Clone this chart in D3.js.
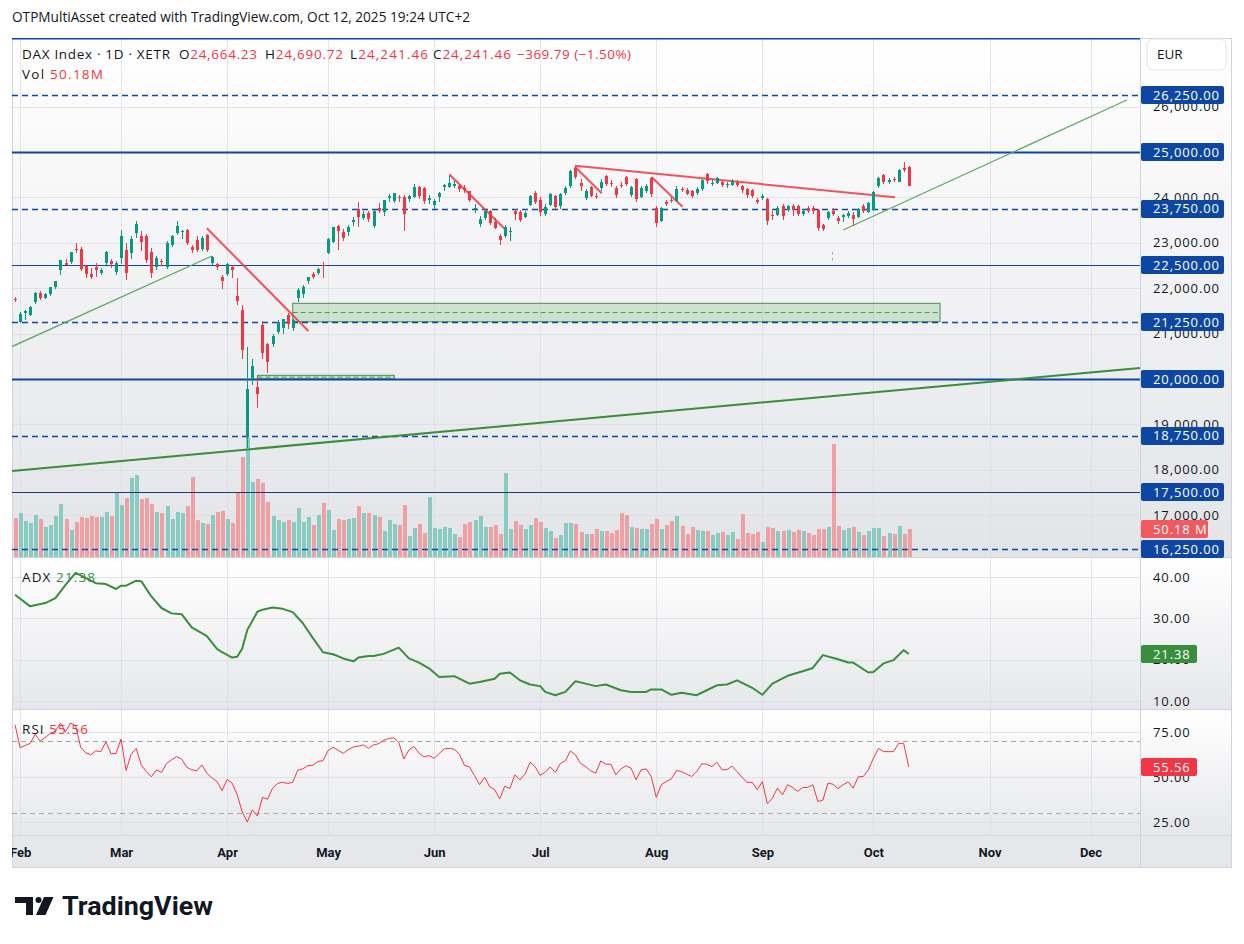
<!DOCTYPE html>
<html>
<head>
<meta charset="utf-8">
<title>DAX Index 1D XETR</title>
<script src="https://cdn.jsdelivr.net/npm/d3@7"></script>
<style>
  body { margin: 0; background: #ffffff; }
  svg { display: block; font-family: "Open Sans", "Noto Sans", Roboto, sans-serif; }
</style>
</head>
<body>
<svg id="chart" width="1244" height="944"></svg>
<script>
// ---------- data ----------
const holidays = ["2025-04-18", "2025-04-21", "2025-05-01"];
const monthNames = ["Jan", "Feb", "Mar", "Apr", "May", "Jun", "Jul", "Aug", "Sep", "Oct", "Nov", "Dec"];

// daily bars, 31 Jan 2025 .. 10 Oct 2025
const opens = [
  21770, 21260, 21450, 21400, 21690, 21900, 21790, 21880, 22030, 22390,
  22560, 22570, 22870, 22860, 22490, 22320, 22460, 22330, 22550, 22590,
  22360, 22660, 22840, 22770, 23210, 23160, 23150, 22800, 22470, 22600,
  22470, 22950, 23220, 23230, 23282, 22915, 23060, 22860, 23170, 22550,
  22530, 22240, 22313, 22460, 21830, 21520, 18730, 19993, 19817, 21189,
  20764, 20771, 21042, 21123, 21410, 21116, 21777, 21872, 22159, 22313,
  22341, 22511, 22782, 23024, 23370, 23238, 23231, 23460, 23738, 23540,
  23656, 23370, 23760, 23671, 23980, 23927, 24000, 24000, 23958, 24015,
  24222, 24200, 23950, 23832, 24000, 24236, 24236, 24260, 24260, 24200,
  24130, 23760, 23414, 23540, 23700, 23450, 23150, 23150, 23230, 23700,
  23685, 23575, 23832, 24105, 23943, 23635, 23832, 24030, 23800, 24090,
  24240, 24640, 24320, 23990, 24220, 24020, 24200, 24471, 24310, 24200,
  24273, 24440, 24053, 24397, 24015, 24140, 24420, 23760, 23487, 23905,
  23950, 23927, 24180, 24160, 24130, 24090, 24178, 24515, 24300, 24323,
  24330, 24270, 24280, 24340, 24250, 24178, 24163, 23943, 23980, 23958,
  23610, 23612, 23810, 23722, 23810, 23800, 23640, 23760, 23770, 23722,
  23392, 23540, 23700, 23540, 23560, 23590, 23610, 23575, 23810, 23685,
  23722, 24251, 24493, 24340, 24400, 24346, 24650, 24664.23
];
const highs = [
  21800, 21470, 21520, 21600, 21920, 21930, 21900, 22030, 22160, 22620,
  22650, 22800, 22990, 22900, 22520, 22450, 22560, 22440, 22830, 22650,
  22600, 23280, 22990, 23150, 23476, 23250, 23200, 22880, 22720, 22650,
  23030, 23180, 23476, 23290, 23300, 22960, 23150, 23140, 23200, 22700,
  22560, 22300, 22560, 22520, 22230, 21630, 20700, 20440, 19993, 21277,
  20800, 21000, 21300, 21320, 21450, 21330, 22000, 22060, 22250, 22350,
  22440, 22584, 23100, 23350, 23400, 23300, 23400, 23560, 23892, 23700,
  23700, 23720, 23880, 23950, 24080, 24100, 24050, 24050, 24050, 24295,
  24250, 24230, 24050, 23960, 24120, 24300, 24479, 24360, 24300, 24270,
  24150, 23860, 23600, 23750, 23720, 23550, 23200, 23400, 23350, 23750,
  23720, 23700, 24050, 24150, 24000, 23850, 24100, 24060, 24100, 24250,
  24610, 24690, 24400, 24180, 24260, 24100, 24400, 24500, 24380, 24250,
  24330, 24480, 24240, 24420, 24240, 24300, 24450, 23800, 23780, 23950,
  24000, 24260, 24230, 24200, 24160, 24220, 24400, 24540, 24400, 24440,
  24380, 24340, 24400, 24380, 24280, 24200, 24190, 23990, 24080, 23980,
  23700, 23800, 23850, 23830, 23850, 23830, 23750, 23800, 23810, 23740,
  23420, 23700, 23760, 23600, 23640, 23700, 23680, 23760, 23850, 23900,
  24130, 24440, 24520, 24420, 24450, 24620, 24770, 24690.72
];
const lows = [
  21690, 21230, 21300, 21380, 21650, 21740, 21760, 21830, 21980, 22300,
  22480, 22540, 22780, 22380, 22230, 22200, 22250, 22280, 22520, 22450,
  22280, 22530, 22190, 22650, 23100, 22820, 22560, 22230, 22400, 22480,
  22420, 22900, 23180, 23080, 22950, 22780, 22800, 22830, 22790, 22480,
  22400, 21976, 22270, 22230, 21620, 20434, 18489, 19868, 19368, 20450,
  20125, 20700, 21000, 21000, 21100, 21050, 21700, 21780, 22100, 22200,
  22290, 22232, 22750, 23000, 22840, 23050, 23150, 23380, 23354, 23500,
  23450, 23330, 23650, 23600, 23900, 23880, 23900, 23266, 23900, 23980,
  23960, 23850, 23850, 23740, 23900, 24150, 24200, 24200, 24120, 24100,
  23890, 23650, 23350, 23500, 23400, 23300, 22950, 23100, 23050, 23500,
  23450, 23550, 23800, 23850, 23600, 23600, 23800, 23750, 23750, 24050,
  24200, 24400, 24150, 23950, 24000, 23960, 24150, 24250, 24220, 23990,
  24200, 24250, 24000, 23900, 23990, 24100, 24000, 23350, 23450, 23800,
  23870, 23900, 24120, 24060, 23980, 24060, 24150, 24300, 24250, 24300,
  24220, 24200, 24250, 24230, 24100, 23980, 23980, 23850, 23950, 23400,
  23500, 23580, 23500, 23680, 23600, 23580, 23600, 23650, 23640, 23250,
  23250, 23500, 23580, 23420, 23450, 23550, 23380, 23540, 23650, 23650,
  23700, 24200, 24300, 24300, 24330, 24330, 24560, 24241.46
];
const closes = [
  21732, 21428, 21505, 21586, 21902, 21787, 21880, 22020, 22148, 22612,
  22513, 22798, 22844, 22433, 22314, 22250, 22390, 22410, 22794, 22530,
  22551, 23147, 22327, 23081, 23419, 23009, 22620, 22328, 22676, 22568,
  22987, 23154, 23380, 23260, 22999, 22850, 22852, 23109, 22839, 22679,
  22461, 22163, 22539, 22390, 21717, 20642, 19789, 20280, 19670, 20562,
  20374, 20954, 21254, 21311, 21206, 21294, 21962, 22020, 22242, 22240,
  22426, 22497, 23087, 23345, 23249, 23116, 23352, 23499, 23566, 23639,
  23527, 23695, 23690, 23935, 24036, 24090, 23980, 23630, 24028, 24227,
  24039, 23920, 23997, 23930, 24091, 24276, 24323, 24304, 24174, 24162,
  23949, 23771, 23516, 23699, 23434, 23317, 23057, 23350, 23270, 23641,
  23498, 23649, 24033, 23909, 23673, 23790, 24069, 23787, 24073, 24206,
  24590, 24456, 24240, 24150, 24040, 24000, 24347, 24290, 24295, 24042,
  24240, 24290, 24218, 23970, 24217, 24262, 24065, 23425, 23757, 23846,
  23924, 24193, 24163, 24082, 24025, 24186, 24377, 24359, 24314, 24423,
  24277, 24293, 24363, 24273, 24152, 24046, 24039, 23902, 24037, 23487,
  23595, 23770, 23597, 23807, 23718, 23632, 23703, 23698, 23700, 23329,
  23300, 23675, 23639, 23470, 23611, 23666, 23534, 23739, 23690, 23880,
  24114, 24423, 24340, 24378, 24385, 24597, 24611.25, 24241.46
];
// volume, millions
const volumes = [
  69.4, 78.6, 63.8, 60.2, 74.9, 67.5, 54.6, 56.5, 73.0, 95.1,
  67.5, 49.1, 62.0, 71.2, 69.4, 73.0, 71.2, 71.2, 80.4, 73.0,
  117.2, 93.3, 106.2, 141.2, 146.7, 104.3, 106.2, 95.1, 80.4, 78.6,
  91.5, 67.5, 80.4, 78.6, 91.5, 143.0, 65.7, 60.2, 58.3, 74.9,
  80.4, 82.3, 67.5, 60.2, 116.6, 180.0, 215.0, 133.8, 139.3, 132.0,
  98.8, 73.0, 65.7, 62.0, 65.7, 62.0, 87.8, 62.0, 71.2, 56.5,
  74.9, 97.0, 84.1, 49.1, 67.5, 65.7, 67.5, 69.4, 91.5, 78.6,
  78.6, 74.9, 71.2, 47.3, 65.7, 58.3, 56.5, 93.3, 38.1, 52.8,
  58.3, 43.6, 108.0, 52.8, 50.9, 54.6, 52.8, 41.7, 36.2, 58.3,
  62.0, 65.7, 73.0, 54.6, 54.6, 56.5, 41.7, 150.4, 50.9, 63.8,
  56.5, 50.9, 56.5, 69.4, 62.0, 52.8, 47.3, 34.4, 39.9, 60.2,
  60.2, 58.3, 45.4, 41.7, 41.7, 50.9, 46.0, 46.0, 42.4, 47.8,
  78.2, 74.6, 53.1, 51.3, 49.6, 49.6, 58.5, 67.5, 49.6, 56.7,
  63.9, 72.8, 54.9, 40.6, 53.1, 47.8, 46.0, 46.0, 38.8, 42.4,
  44.2, 38.8, 44.2, 31.6, 76.4, 42.4, 40.6, 44.2, 26.3, 53.1,
  51.3, 46.0, 46.0, 47.8, 44.2, 47.8, 46.0, 42.4, 38.8, 49.6,
  49.6, 53.1, 201.8, 54.9, 47.8, 51.3, 53.1, 44.2, 38.8, 46.0,
  51.3, 51.3, 37.0, 42.4, 40.6, 54.9, 40.6, 50.18
];
// RSI(14), one value per bar
const rsi = [
  79, 66.3, 67.5, 68.7, 73.7, 70, 72, 74.2, 75.5, 80,
  75.2, 80, 78.5, 66.5, 63.5, 62.3, 64.5, 64.1, 69.6, 63,
  63, 71.1, 53.6, 62.6, 65.9, 56.7, 53, 50.1, 54, 52.5,
  57.5, 59.5, 61.3, 60, 55.4, 54, 53.4, 56.7, 52.1, 49.5,
  47.5, 42.5, 48.6, 46.6, 40.1, 30.6, 25, 31.7, 28.3, 38.7,
  37.6, 43.8, 46.4, 47.1, 46.4, 47.1, 53.8, 54.5, 56.4, 56.5,
  58.6, 59.1, 64.7, 66.5, 64.8, 63.2, 65.2, 66.7, 67.2, 67.8,
  65.9, 67.8, 68.5, 70.4, 71.3, 71.8, 69.3, 60, 65, 67,
  63.2, 61.2, 61.9, 60.4, 63, 65.6, 65.9, 65.4, 62.6, 56.5,
  55.6, 50.8, 45.7, 49.9, 44.7, 42.9, 37.9, 44.9, 43.6, 51.2,
  48.4, 51.6, 58.2, 55.8, 50.8, 52.7, 55.6, 52.5, 57.5, 59.1,
  64.5, 62.3, 57.6, 55.8, 53.4, 52.1, 58.9, 57.1, 57.1, 51.2,
  54.5, 56.2, 54.9, 48.4, 54, 54.5, 50.3, 38.7, 45.7, 47.5,
  49, 53.6, 53, 51.6, 50.3, 53, 57.3, 57.1, 55.8, 58.2,
  54, 54.1, 56, 53, 49.7, 47, 47, 42.9, 47.5, 35.2,
  38.3, 43.8, 40.1, 45.7, 44.2, 42, 44.2, 44.2, 45.7, 36.4,
  37.2, 46.6, 46, 43.5, 45.7, 47.3, 43.8, 50.1, 50.3, 54,
  60.4, 65.9, 64.1, 64.1, 64.1, 68.7, 68.7, 55.56
];
// ADX(14): readings at bar index
const adxIdx = [0, 3, 6, 8, 10, 12, 14, 16, 18, 20, 21, 22, 24, 25, 27, 29, 31, 33, 35, 38,
  40, 41, 43, 44, 45, 46, 48, 49, 51, 53, 55, 57, 59, 61, 63, 65, 67, 68, 70, 71,
  73, 76, 78, 80, 82, 84, 87, 90, 92, 95, 96, 98, 100, 102, 104, 105, 107, 109, 111, 113,
  115, 117, 120, 122, 125, 126, 128, 130, 132, 135, 137, 139, 141, 143, 146, 148, 150, 153, 156, 158,
  160, 163, 165, 166, 169, 170, 172, 174, 176, 177];
const adxVal = [35.7, 32.9, 33.7, 34.9, 38.1, 41.0, 39.8, 38.5, 38.3, 37.1, 37.9, 37.9, 39.1, 39.0, 35.3, 32.5, 31.2, 31.0, 27.8, 25.7,
  22.6, 21.8, 20.5, 20.7, 22.7, 27.2, 31.6, 32.1, 32.6, 32.3, 31.5, 28.8, 25.2, 21.8, 21.3, 20.3, 19.6, 20.5, 20.9, 20.9,
  21.4, 22.9, 20.3, 19.3, 17.9, 15.8, 16.0, 14.2, 14.6, 15.4, 16.6, 16.9, 15.0, 14.0, 13.6, 12.2, 11.4, 12.2, 14.8, 14.2,
  13.6, 14.0, 12.6, 12.2, 12.2, 12.8, 12.8, 11.5, 12.0, 11.4, 12.6, 13.8, 14.0, 15.0, 13.2, 11.5, 14.2, 16.1, 17.2, 18.0,
  21.1, 20.1, 19.3, 19.3, 16.9, 17.0, 19.1, 19.9, 22.3, 21.38];

// horizontal levels drawn on the chart
const levels = [27500, 26250, 25000, 23750, 22500, 21250, 20000, 18750, 17500, 16250];
const priceTicks = [26000, 25000, 24000, 23000, 22000, 21000, 20000, 19000, 18000, 17000];
const adxTicks = [40, 30, 20, 10];
const rsiTicks = [75, 50, 25];
const rsiBands = [70, 30];

// drawings: [barIndex, price] pairs
const greenLines = [
  [[-0.6, 20714], [39, 22709]],
  [[-0.6, 17974], [222.8, 20242]],
  [[164, 23282], [220.2, 26145]]
];
const redLines = [
  [[38, 23319], [58.1, 21057]],
  [[86, 24509], [97.2, 23282]],
  [[110.9, 24698], [174.3, 24002]],
  [[110.9, 24676], [116.2, 24090]],
  [[126.1, 24443], [132.2, 23795]]
];
// zones: [startIdx, endIdx, lowPrice, highPrice]
const zones = [
  [55, 183.2, 21262, 21667],
  [48, 75.1, 20000, 20081]
];
// small dotted mark: [barIndex, price]
const dotMarks = [[161.8, 22790], [161.8, 22660]];

// ---------- layout ----------
const L = 12, R = 1140, AX = 1232;
const mainTop = 38, mainBot = 557, adxTop = 558, adxBot = 709, rsiTop = 710, rsiBot = 835, timeBot = 868;
const UP = "#089981", DOWN = "#f23645", NAVY = "#0d47a1", TXT = "#131722";

const x = d3.scaleLinear().domain([-0.6, 222.8]).range([L, R]);
const yP = d3.scaleLinear().domain([16079, 27511]).range([mainBot, mainTop]);
const yV = d3.scaleLinear().domain([0, 215]).range([mainBot, 437]);
const yA = d3.scaleLinear().domain([10, 40]).range([701, 577]);
const yR = d3.scaleLinear().domain([25, 75]).range([822, 732]);

// trading calendar (weekdays minus exchange holidays), projected into December
const dates = [];
{
  const d = new Date(Date.UTC(2025, 0, 31));
  const end = new Date(Date.UTC(2025, 11, 31));
  while (d <= end) {
    const wd = d.getUTCDay();
    if (wd !== 0 && wd !== 6 && !holidays.includes(d.toISOString().slice(0, 10))) dates.push(new Date(d));
    d.setUTCDate(d.getUTCDate() + 1);
  }
}
const monthStarts = [];
dates.forEach((d, i) => { if (i > 0 && d.getUTCMonth() !== dates[i - 1].getUTCMonth()) monthStarts.push(i); });

const bars = closes.map((c, i) => ({ i, o: opens[i], h: highs[i], l: lows[i], c, v: volumes[i] }));
const isUp = d => d.c >= d.o;

const svg = d3.select("#chart");
const defs = svg.append("defs");

function vGrad(id, c0, c1) {
  const g = defs.append("linearGradient").attr("id", id).attr("x1", 0).attr("y1", 0).attr("x2", 0).attr("y2", 1);
  g.append("stop").attr("offset", "0%").attr("stop-color", c0);
  g.append("stop").attr("offset", "100%").attr("stop-color", c1);
}
vGrad("gPane", "#ffffff", "#e3e4e8");
vGrad("gSmall", "#ffffff", "#e6e7ea");

function clip(id, x0, y0, x1, y1) {
  defs.append("clipPath").attr("id", id).append("rect")
    .attr("x", x0).attr("y", y0).attr("width", x1 - x0).attr("height", y1 - y0);
}
clip("cMain", L, mainTop, R, mainBot);
clip("cAdx", L, adxTop, R, adxBot);
clip("cRsi", L, rsiTop, R, rsiBot);
clip("cTime", L, rsiBot, R, timeBot);

svg.append("rect").attr("width", 1244).attr("height", 944).attr("fill", "#ffffff");

// pane backgrounds
svg.append("rect").attr("x", L).attr("y", mainTop).attr("width", AX - L).attr("height", mainBot - mainTop).attr("fill", "url(#gPane)");
svg.append("rect").attr("x", L).attr("y", adxTop).attr("width", AX - L).attr("height", adxBot - adxTop).attr("fill", "url(#gSmall)");
svg.append("rect").attr("x", L).attr("y", rsiTop).attr("width", AX - L).attr("height", rsiBot - rsiTop).attr("fill", "url(#gSmall)");
svg.append("rect").attr("x", L).attr("y", rsiBot).attr("width", AX - L).attr("height", timeBot - rsiBot).attr("fill", "#e6e7eb");

// grid
const grid = svg.append("g").attr("stroke", "#d9dbe1").attr("stroke-opacity", 0.7).attr("shape-rendering", "crispEdges");
grid.selectAll(".vg").data(monthStarts).join("line")
  .attr("x1", i => Math.round(x(i)) + 0.5).attr("x2", i => Math.round(x(i)) + 0.5)
  .attr("y1", mainTop).attr("y2", rsiBot);
grid.selectAll(".hp").data(priceTicks).join("line")
  .attr("x1", L).attr("x2", R).attr("y1", d => Math.round(yP(d)) + 0.5).attr("y2", d => Math.round(yP(d)) + 0.5);
grid.selectAll(".ha").data(adxTicks).join("line")
  .attr("x1", L).attr("x2", R).attr("y1", d => Math.round(yA(d)) + 0.5).attr("y2", d => Math.round(yA(d)) + 0.5);
grid.selectAll(".hr").data(rsiTicks).join("line")
  .attr("x1", L).attr("x2", R).attr("y1", d => Math.round(yR(d)) + 0.5).attr("y2", d => Math.round(yR(d)) + 0.5);

// pane separators
const sep = svg.append("g").attr("stroke", "#d1d4dc").attr("shape-rendering", "crispEdges");
[mainBot + 0.5, adxBot + 0.5, rsiBot + 0.5].forEach(y => sep.append("line").attr("x1", L).attr("x2", AX).attr("y1", y).attr("y2", y));
sep.append("line").attr("x1", R + 0.5).attr("x2", R + 0.5).attr("y1", mainTop).attr("y2", timeBot);
sep.append("rect").attr("x", L + 0.5).attr("y", mainTop + 0.5).attr("width", AX - L - 1).attr("height", timeBot - mainTop - 1).attr("fill", "none");

// ---------- main pane ----------
const main = svg.append("g").attr("clip-path", "url(#cMain)");

// volume
main.append("g").attr("shape-rendering", "crispEdges").selectAll("rect").data(bars).join("rect")
  .attr("x", d => Math.round(x(d.i)) - 1.5).attr("width", 4)
  .attr("y", d => yV(d.v)).attr("height", d => mainBot - yV(d.v))
  .attr("fill", d => isUp(d) ? "#8acbc1" : "#f0a0a3");

// zones
const zg = main.append("g");
zones.forEach(z => {
  zg.append("rect").attr("x", x(z[0])).attr("width", x(z[1]) - x(z[0]))
    .attr("y", yP(z[3])).attr("height", yP(z[2]) - yP(z[3]))
    .attr("fill", "rgba(76,175,80,0.22)").attr("stroke", "#4a8f4e").attr("stroke-width", 1);
  zg.append("line").attr("x1", x(z[0])).attr("x2", x(z[1]))
    .attr("y1", yP((z[2] + z[3]) / 2)).attr("y2", yP((z[2] + z[3]) / 2))
    .attr("stroke", "#43a047").attr("stroke-width", 1).attr("stroke-dasharray", "5,3");
});

// horizontal levels
const lv = main.append("g");
lv.selectAll("line").data(levels).join("line")
  .attr("x1", L).attr("x2", R)
  .attr("y1", d => Math.round(yP(d)) + 0.5).attr("y2", d => Math.round(yP(d)) + 0.5)
  .attr("stroke", d => d === 17500 ? "#1a3a7a" : NAVY)
  .attr("stroke-width", d => d % 2500 === 0 ? (d === 22500 || d === 17500 ? 1.2 : 2) : 1.4)
  .attr("stroke-dasharray", d => d % 2500 === 0 ? null : "6,4");

// trend lines
const lineGen = d3.line().x(p => x(p[0])).y(p => yP(p[1]));
main.append("g").selectAll("path").data(greenLines).join("path")
  .attr("d", lineGen).attr("fill", "none")
  .attr("stroke", (d, k) => k === 1 ? "#388e3c" : "#5fa863")
  .attr("stroke-width", (d, k) => k === 1 ? 2 : 1.3);
main.append("g").selectAll("path").data(redLines).join("path")
  .attr("d", lineGen).attr("fill", "none")
  .attr("stroke", "#f23645").attr("stroke-opacity", 0.85).attr("stroke-width", 2);

// candles
const cg = main.append("g").attr("shape-rendering", "crispEdges");
cg.selectAll(".wick").data(bars).join("rect")
  .attr("x", d => Math.round(x(d.i))).attr("width", 1)
  .attr("y", d => yP(d.h)).attr("height", d => Math.max(1, yP(d.l) - yP(d.h)))
  .attr("fill", d => isUp(d) ? UP : DOWN);
cg.selectAll(".body").data(bars).join("rect")
  .attr("x", d => Math.round(x(d.i)) - 1).attr("width", 3)
  .attr("y", d => yP(Math.max(d.o, d.c))).attr("height", d => Math.max(1, Math.abs(yP(d.o) - yP(d.c))))
  .attr("fill", d => isUp(d) ? UP : DOWN);

// small dotted mark
main.append("g").attr("fill", "#9598a1").selectAll("rect").data(dotMarks).join("rect")
  .attr("x", d => Math.round(x(d[0]))).attr("y", d => yP(d[1])).attr("width", 1).attr("height", 2);

// ---------- ADX pane ----------
const adxG = svg.append("g").attr("clip-path", "url(#cAdx)");
adxG.append("path").datum(adxIdx.map((k, j) => [k, adxVal[j]]))
  .attr("d", d3.line().x(p => x(p[0])).y(p => yA(p[1])))
  .attr("fill", "none").attr("stroke", "#388e3c").attr("stroke-width", 2).attr("stroke-linejoin", "round");

// ---------- RSI pane ----------
const rsiG = svg.append("g").attr("clip-path", "url(#cRsi)");
rsiG.selectAll("line").data(rsiBands).join("line")
  .attr("x1", L).attr("x2", R).attr("y1", d => Math.round(yR(d)) + 0.5).attr("y2", d => Math.round(yR(d)) + 0.5)
  .attr("stroke", "#a3a6af").attr("stroke-dasharray", "5,4");
rsiG.append("path").datum(rsi)
  .attr("d", d3.line().x((v, i) => x(i)).y(v => yR(v)))
  .attr("fill", "none").attr("stroke", "#f23645").attr("stroke-width", 1);

// ---------- price axes ----------
const fmt2 = d3.format(",.2f");
const axisG = svg.append("g").attr("font-size", 13).attr("letter-spacing", 0.9).attr("fill", TXT);
function tickLabels(vals, scale) {
  axisG.append("g").selectAll("text").data(vals).join("text")
    .attr("x", 1153).attr("y", d => scale(d)).attr("dy", "0.35em").text(d => fmt2(d));
}
tickLabels(priceTicks, yP);
tickLabels(adxTicks, yA);
tickLabels(rsiTicks, yR);

function valueBox(y, w, fill, label) {
  const g = svg.append("g");
  g.append("rect").attr("x", R + 1).attr("y", Math.round(y) - 9).attr("width", w).attr("height", 18).attr("rx", 2).attr("fill", fill);
  g.append("text").attr("x", 1153).attr("y", y).attr("dy", "0.35em").attr("font-size", 13)
    .attr("letter-spacing", 0.9).attr("fill", "#ffffff").text(label);
}
levels.filter(l => yP(l) > mainTop + 5).forEach(l => valueBox(yP(l), 83, NAVY, fmt2(l)));
valueBox(yV(volumes[volumes.length - 1]), 67, "#f05a5e", d3.format(".2f")(volumes[volumes.length - 1]) + " M");
valueBox(yA(adxVal[adxVal.length - 1]), 56, "#388e3c", d3.format(".2f")(adxVal[adxVal.length - 1]));
valueBox(yR(rsi[rsi.length - 1]), 56, "#f23645", d3.format(".2f")(rsi[rsi.length - 1]));

// currency button
svg.append("rect").attr("x", 1147).attr("y", 39).attr("width", 79).attr("height", 31).attr("rx", 6)
  .attr("fill", "#ffffff").attr("stroke", "#e0e3eb");
svg.append("text").attr("x", 1157).attr("y", 59).attr("font-size", 13.5).attr("fill", TXT).text("EUR");

// ---------- time axis ----------
const timeAxis = d3.axisBottom(x).tickValues(monthStarts).tickSize(0).tickPadding(0)
  .tickFormat(i => monthNames[dates[i].getUTCMonth()]);
svg.append("g").attr("clip-path", "url(#cTime)").append("g")
  .attr("transform", `translate(0,${rsiBot + 13})`).call(timeAxis)
  .call(g => g.select(".domain").remove())
  .selectAll("text").attr("font-size", 13).attr("font-weight", "bold").attr("fill", TXT)
  .attr("font-family", "Roboto, 'Liberation Sans', sans-serif");

// ---------- legends ----------
const last = bars[bars.length - 1], prev = bars[bars.length - 2];
const chg = last.c - prev.c, pct = chg / prev.c * 100;
const minus = v => (v < 0 ? "\u2212" : "+") + d3.format(",.2f")(Math.abs(v));
const lg = svg.append("g").attr("font-size", 13.5).attr("fill", TXT);
function fit(t, w) { return t.attr("textLength", w).attr("lengthAdjust", "spacing"); }
fit(lg.append("text").attr("x", 22).attr("y", 59).text("DAX Index \u00b7 1D \u00b7 XETR"), 148);
[["O", last.o, 179], ["H", last.h, 265], ["L", last.l, 350], ["C", last.c, 433]].forEach(([k, v, px]) => {
  const t = lg.append("text").attr("x", px).attr("y", 59);
  t.append("tspan").text(k);
  t.append("tspan").attr("fill", DOWN).text(fmt2(v));
  fit(t, 78);
});
fit(lg.append("text").attr("x", 517).attr("y", 59).attr("fill", DOWN)
  .text(`${minus(chg)} (${minus(pct)}%)`), 114);
const vt = lg.append("text").attr("x", 22).attr("y", 79);
vt.append("tspan").text("Vol ");
vt.append("tspan").attr("fill", DOWN).text(d3.format(".2f")(last.v) + "M");
fit(vt, 81);

const at = lg.append("text").attr("x", 22).attr("y", 582);
at.append("tspan").text("ADX ");
at.append("tspan").attr("fill", "#388e3c").text(d3.format(".2f")(adxVal[adxVal.length - 1]));
fit(at, 73);
const rt = lg.append("text").attr("x", 22).attr("y", 734);
rt.append("tspan").text("RSI ");
rt.append("tspan").attr("fill", DOWN).text(d3.format(".2f")(rsi[rsi.length - 1]));
fit(rt, 66);

// ---------- header & logo ----------
svg.append("text").attr("x", 12).attr("y", 22).attr("font-size", 14).attr("fill", TXT)
  .attr("textLength", 458).attr("lengthAdjust", "spacingAndGlyphs")
  .text("OTPMultiAsset created with TradingView.com, Oct 12, 2025 19:24 UTC+2");

const logo = svg.append("g").attr("fill", TXT);
logo.append("rect").attr("x", 15).attr("y", 897).attr("width", 18).attr("height", 6);
logo.append("rect").attr("x", 26).attr("y", 897).attr("width", 7).attr("height", 18);
logo.append("circle").attr("cx", 38.5).attr("cy", 900).attr("r", 3);
logo.append("path").attr("d", "M44,897 L53.5,897 L45.5,915 L36,915 Z");
logo.append("text").attr("x", 62).attr("y", 915).attr("font-size", 25).attr("font-weight", "bold")
  .attr("font-family", "Roboto, 'Liberation Sans', sans-serif")
  .attr("textLength", 151).attr("lengthAdjust", "spacingAndGlyphs").text("TradingView");
</script>
</body>
</html>
